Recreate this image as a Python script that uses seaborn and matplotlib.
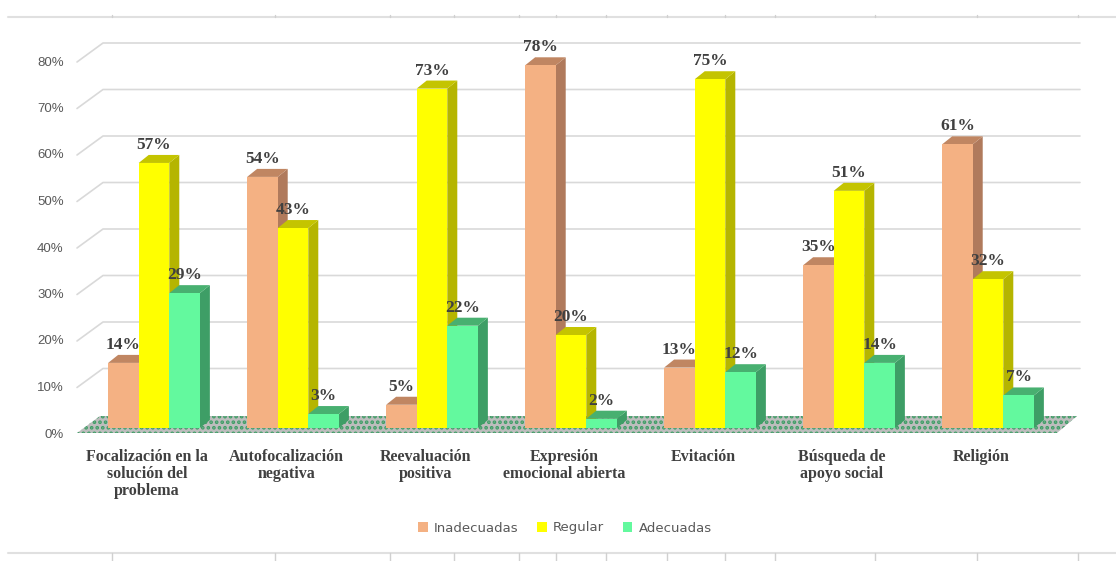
import numpy as np
import pandas as pd
import matplotlib
matplotlib.use("Agg")
import matplotlib.pyplot as plt
import matplotlib.transforms as mtransforms
from matplotlib.patches import Polygon, Patch
from matplotlib.lines import Line2D
import seaborn as sns

categories = ["Focalización en la\nsolución del\nproblema", "Autofocalización\nnegativa",
              "Reevaluación\npositiva", "Expresión\nemocional abierta", "Evitación",
              "Búsqueda de\napoyo social", "Religión"]
series = ["Inadecuadas", "Regular", "Adecuadas"]
inadecuadas = [14, 54, 5, 78, 13, 35, 61]
regular = [57, 43, 73, 20, 75, 51, 32]
adecuadas = [29, 3, 22, 2, 12, 14, 7]
yticks = [0, 10, 20, 30, 40, 50, 60, 70, 80]

front_colors = ["#F4B183", "#FFFF00", "#63F99E"]
side_colors = ["#B07A5C", "#B5B500", "#3E9E66"]
top_colors = ["#C08662", "#C4C400", "#48B070"]

df = pd.DataFrame({
    "cat": categories * 3,
    "serie": [s for s in series for _ in categories],
    "val": inadecuadas + regular + adecuadas,
})

sns.set_theme(style="white")
plt.rcParams['font.family'] = ['DejaVu Sans']
plt.rcParams['hatch.linewidth'] = 1.8

W, H = 1116, 561
fig = plt.figure(figsize=(W / 100, H / 100), dpi=100)
ax_left, ax_right = 84.5, 1057.5
ax_top, ax_bot = 56, 428
ax = fig.add_axes([ax_left / W, 1 - ax_bot / H, (ax_right - ax_left) / W, (ax_bot - ax_top) / H])

sns.barplot(data=df, x="cat", y="val", hue="serie", order=categories, hue_order=series,
            palette=front_colors, saturation=1, width=0.66, dodge=True, legend=False,
            ax=ax, linewidth=0, zorder=3)

ax.set_xlim(-0.5, 6.5)
ax.set_ylim(0, 80)
px_x = (ax_right - ax_left) / 7.0
px_y = (ax_bot - ax_top) / 80.0


def X(px):
    return -0.5 + (px - ax_left) / px_x


def Yd(dpx):
    return dpx / px_y


# depth of bars
bdx, bdy = 10 / px_x, 8 / px_y

# back wall gridlines (with perspective diagonal on the left)
for v in yticks[1:]:
    ax.plot([X(77), X(103), X(1080)], [v - Yd(6), v + Yd(13), v + Yd(13)],
            color="#D9D9D9", lw=1.2, clip_on=False, zorder=1)

# floor
floor = Polygon([(X(77), -Yd(5)), (X(1057), -Yd(5)), (X(1077), Yd(12)), (X(100), Yd(12))],
                closed=True, facecolor="#BDBDBD", edgecolor="#3E9E66", hatch="...",
                lw=0, clip_on=False, zorder=1.5)
ax.add_patch(floor)

# 3D faces and labels
bars = [p for p in ax.patches if p is not floor and p.get_width() > 0]
fc_hex = [matplotlib.colors.to_hex(c) for c in front_colors]
for p in bars:
    idx = fc_hex.index(matplotlib.colors.to_hex(p.get_facecolor()))
    x0, w, h = p.get_x(), p.get_width(), p.get_height()
    z = 3 + idx * 0.1
    p.set_zorder(z + 0.05)
    p.set_clip_on(False)
    side = Polygon([(x0 + w, 0), (x0 + w + bdx, bdy), (x0 + w + bdx, h + bdy), (x0 + w, h)],
                   closed=True, facecolor=side_colors[idx], lw=0, zorder=z, clip_on=False)
    top = Polygon([(x0, h), (x0 + bdx, h + bdy), (x0 + w + bdx, h + bdy), (x0 + w, h)],
                  closed=True, facecolor=top_colors[idx], lw=0, zorder=z, clip_on=False)
    ax.add_patch(side)
    ax.add_patch(top)
    ax.annotate(f"{int(round(h))}%", (x0 + w / 2, h + bdy), xytext=(0, 2),
                textcoords="offset pixels", ha="center", va="bottom",
                fontsize=12.5, fontweight="bold", color="#404040",
                family="Liberation Serif", zorder=10, annotation_clip=False)

sns.despine(ax=ax, left=True, bottom=True)
ax.set_xlabel("")
ax.set_ylabel("")
ax.set_yticks(yticks)
ax.set_yticklabels([f"{v}%" for v in yticks], fontsize=9.5, color="#595959",
                   family="Liberation Sans")
ax.set_xticks(range(len(categories)))
ax.set_xticklabels(categories, fontsize=11.5, fontweight="bold", color="#404040",
                   family="Liberation Serif", linespacing=1.1)
ax.tick_params(axis="both", length=0)
ax.tick_params(axis="x", pad=15)
ax.tick_params(axis="y", pad=15)
ax.grid(False)
ax.set_facecolor("none")

shift_x = mtransforms.ScaledTranslation(-7 / 100, 0, fig.dpi_scale_trans)
for lab in ax.get_xticklabels():
    lab.set_transform(lab.get_transform() + shift_x)
shift_y = mtransforms.ScaledTranslation(0, -5 / 100, fig.dpi_scale_trans)
for lab in ax.get_yticklabels():
    lab.set_transform(lab.get_transform() + shift_y)

handles = [Patch(facecolor=c, edgecolor="none") for c in front_colors]
fig.legend(handles, series, loc="center", bbox_to_anchor=(565 / W, 1 - 528 / H), ncol=3,
           frameon=False, fontsize=9.5, handlelength=0.7, handleheight=0.7,
           columnspacing=1.4, handletextpad=0.5, labelcolor="#595959")

# document table borders (decoration)
tick_xs = [112, 275, 390, 454, 519, 556, 606, 667, 725, 775, 875, 977, 1078]
for yy, d in [(17, -2), (553, 8)]:
    fig.add_artist(Line2D([8 / W, 1], [1 - yy / H] * 2, color="#E0E0E0", lw=1.5))
    for tx in tick_xs:
        fig.add_artist(Line2D([tx / W] * 2, [1 - yy / H, 1 - (yy + d) / H],
                              color="#D0D0D0", lw=1))

fig.savefig("out.png", dpi=100, facecolor="white")
